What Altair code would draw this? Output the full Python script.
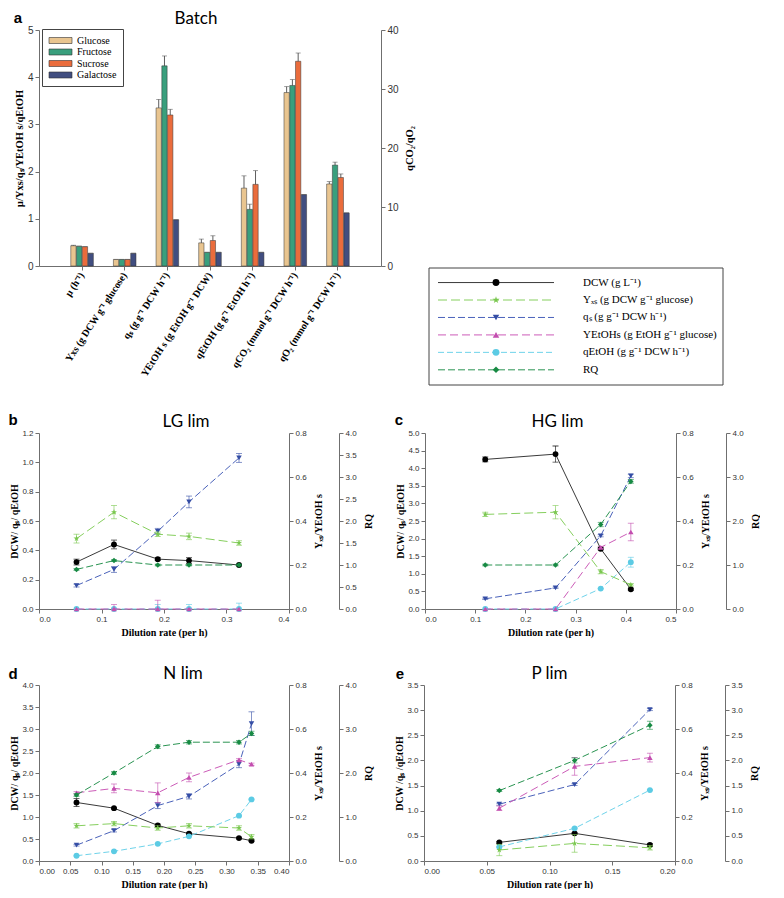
import altair as alt
import pandas as pd

# ---------------- Panel a : Batch ----------------
batch_params = [
    "µ (h⁻¹)",
    "Yxs (g DCW g⁻¹ glucose)",
    "qₛ (g g⁻¹ DCW h⁻¹)",
    "YEtOH s (g EtOH g⁻¹ DCW)",
    "qEtOH (g g⁻¹ EtOH h⁻¹)",
    "qCO₂ (mmol g⁻¹ DCW h⁻¹)",
    "qO₂ (mmol g⁻¹ DCW h⁻¹)",
]
sugars = ["Glucose", "Fructose", "Sucrose", "Galactose"]
sugar_colors = ["#e9c590", "#3a9f7d", "#ea6c3c", "#414e80"]

# first five parameters on left axis, qCO2 / qO2 on right axis (0-40)
glucose_vals = [0.43, 0.14, 3.35, 0.49, 1.65, 29.4, 13.9]
glucose_err = [0.01, 0.0, 0.18, 0.08, 0.26, 1.0, 0.4]
fructose_vals = [0.42, 0.14, 4.24, 0.29, 1.20, 30.6, 17.1]
fructose_err = [0.0, 0.0, 0.21, 0.0, 0.11, 1.0, 0.5]
sucrose_vals = [0.41, 0.14, 3.20, 0.54, 1.73, 34.7, 15.0]
sucrose_err = [0.0, 0.0, 0.12, 0.10, 0.29, 1.4, 0.6]
galactose_vals = [0.27, 0.27, 0.98, 0.29, 0.29, 12.1, 9.0]
galactose_err = [0.0, 0.0, 0.0, 0.0, 0.0, 0.0, 0.0]

# ---------------- Panels b-e : chemostat ----------------
series_keys = ["DCW", "Yxs", "qs", "YEtOHs", "qEtOH", "RQ"]
series_labels = [
    "DCW (g L⁻¹)",
    "Yₓₛ (g DCW g⁻¹ glucose)",
    "qₛ (g g⁻¹ DCW h⁻¹)",
    "YEtOHs (g EtOH g⁻¹ glucose)",
    "qEtOH (g g⁻¹ DCW h⁻¹)",
    "RQ",
]

# LG lim
lg_D = [0.06, 0.12, 0.19, 0.24, 0.32]
lg_DCW = [0.32, 0.44, 0.34, 0.33, 0.30]
lg_DCW_err = [0.02, 0.03, 0.01, 0.02, 0.005]
lg_Yxs = [0.32, 0.44, 0.34, 0.33, 0.30]
lg_Yxs_err = [0.02, 0.03, 0.01, 0.015, 0.01]
lg_qs = [0.16, 0.27, 0.53, 0.73, 1.03]
lg_qs_err = [0.01, 0.02, 0.02, 0.04, 0.03]
lg_YEtOHs = [0.0, 0.0, 0.0, 0.0, 0.0]
lg_YEtOHs_err = [0.0, 0.02, 0.04, 0.0, 0.0]
lg_qEtOH = [0.0, 0.0, 0.0, 0.0, 0.0]
lg_qEtOH_err = [0.0, 0.0, 0.03, 0.03, 0.04]
lg_RQ = [0.9, 1.1, 1.0, 1.0, 1.0]
lg_RQ_err = [0.02, 0.02, 0.02, 0.02, 0.02]

# HG lim
hg_D = [0.12, 0.26, 0.35, 0.41]
hg_DCW = [4.25, 4.40, 1.71, 0.56]
hg_DCW_err = [0.07, 0.23, 0.03, 0.03]
hg_Yxs = [0.43, 0.44, 0.17, 0.11]
hg_Yxs_err = [0.01, 0.03, 0.01, 0.005]
hg_qs = [0.29, 0.60, 2.08, 3.78]
hg_qs_err = [0.02, 0.02, 0.03, 0.05]
hg_YEtOHs = [0.0, 0.0, 0.28, 0.35]
hg_YEtOHs_err = [0.0, 0.0, 0.005, 0.04]
hg_qEtOH = [0.0, 0.0, 0.58, 1.33]
hg_qEtOH_err = [0.0, 0.0, 0.01, 0.14]
hg_RQ = [1.0, 1.0, 1.92, 2.9]
hg_RQ_err = [0.02, 0.02, 0.05, 0.04]

# N lim
n_D = [0.06, 0.12, 0.19, 0.24, 0.32, 0.34]
n_DCW = [1.33, 1.20, 0.81, 0.62, 0.52, 0.46]
n_DCW_err = [0.09, 0.02, 0.03, 0.02, 0.02, 0.02]
n_Yxs = [0.16, 0.17, 0.15, 0.16, 0.15, 0.11]
n_Yxs_err = [0.01, 0.01, 0.01, 0.01, 0.01, 0.01]
n_qs = [0.36, 0.69, 1.26, 1.47, 2.20, 3.12]
n_qs_err = [0.02, 0.03, 0.07, 0.06, 0.08, 0.27]
n_YEtOHs = [0.31, 0.33, 0.31, 0.38, 0.46, 0.44]
n_YEtOHs_err = [0.005, 0.02, 0.045, 0.02, 0.005, 0.005]
n_qEtOH = [0.12, 0.22, 0.39, 0.56, 1.03, 1.40]
n_qEtOH_err = [0.01, 0.01, 0.01, 0.01, 0.01, 0.01]
n_RQ = [1.5, 2.0, 2.6, 2.7, 2.7, 2.9]
n_RQ_err = [0.03, 0.03, 0.04, 0.04, 0.04, 0.05]

# P lim
p_D = [0.06, 0.12, 0.18]
p_DCW = [0.37, 0.55, 0.32]
p_DCW_err = [0.02, 0.02, 0.03]
p_Yxs = [0.05, 0.08, 0.06]
p_Yxs_err = [0.026, 0.04, 0.01]
p_qs = [1.13, 1.52, 3.01]
p_qs_err = [0.02, 0.02, 0.02]
p_YEtOHs = [0.24, 0.43, 0.47]
p_YEtOHs_err = [0.01, 0.04, 0.02]
p_qEtOH = [0.28, 0.65, 1.41]
p_qEtOH_err = [0.01, 0.01, 0.01]
p_RQ = [1.40, 2.0, 2.7]
p_RQ_err = [0.02, 0.05, 0.08]

# ---------------- styles ----------------
STAR = ("M0,-1L0.2245,-0.309L0.951,-0.309L0.363,0.118L0.588,0.809L0,0.382"
        "L-0.588,0.809L-0.363,0.118L-0.951,-0.309L-0.2245,-0.309Z")
series_group = ["L", "R", "L", "R", "L", "Q"]
series_colors = ["#000000", "#79c74e", "#344da5", "#c34daf", "#5ccbe4", "#178a43"]
series_line_colors = ["#3a3a3a", "#86cf5e", "#4a62ba", "#cc5cb8", "#6fd3ea", "#2a9452"]
series_dash = [None, [9, 4], [7, 3], [8, 4], [6, 3], [7, 3]]
series_shapes = ["circle", STAR, "triangle-down", "triangle-up", "circle", "diamond"]
series_sizes = [34, 40, 30, 30, 34, 30]

SERIF = "Liberation Serif"
SANS = "Liberation Sans"
TITLE_FONT = "Lato"


def heading(text, x, y, size=17, bold=False, font=TITLE_FONT):
    return alt.Chart(pd.DataFrame({"t": [text]})).mark_text(
        font=font, fontSize=size, fontWeight="bold" if bold else "normal",
        align="center", baseline="alphabetic", color="#000").encode(
        text="t:N", x=alt.value(x), y=alt.value(y))


# ---------------- Batch chart ----------------
rows = []
for s, vals, errs in zip(sugars,
                         [glucose_vals, fructose_vals, sucrose_vals, galactose_vals],
                         [glucose_err, fructose_err, sucrose_err, galactose_err]):
    for i, p in enumerate(batch_params):
        rows.append(dict(param=p, sugar=s, v=vals[i], hi=vals[i] + errs[i],
                         e=errs[i], side="L" if i < 5 else "R"))
bdf = pd.DataFrame(rows)

bx = alt.X("param:N",
           scale=alt.Scale(domain=batch_params, paddingInner=0.47, paddingOuter=0.745),
           axis=alt.Axis(title=None, labelAngle=303, labelAlign="right",
                         labelBaseline="middle", labelFont=SERIF, labelFontWeight="bold",
                         labelFontSize=10, labelColor="#000", labelPadding=3,
                         labelLimit=0, tickSize=4))
bxo = alt.XOffset("sugar:N", scale=alt.Scale(domain=sugars, paddingInner=0.08))
bfill = alt.Color("sugar:N", scale=alt.Scale(domain=sugars, range=sugar_colors),
                  legend=alt.Legend(
                      title=None, orient="none", legendX=3, legendY=-1,
                      symbolType="M-2.3,-0.6H2.3V0.6H-2.3Z", symbolSize=100,
                      symbolStrokeColor="#333", symbolStrokeWidth=0.6,
                      symbolOffset=7, labelOffset=11,
                      labelFont=SERIF, labelFontSize=10, labelColor="#000",
                      fillColor="white", strokeColor="#444", padding=6,
                      rowPadding=0.5))


def batch_side(side, domain, ticks, title, orient, tx):
    ax = alt.Axis(values=ticks, title=title, orient=orient, titleFontSize=10.5,
                  labelFontSize=10, titleAngle=270, titleX=tx, titleBaseline="middle")
    sc = alt.Scale(domain=domain, nice=False)
    base = alt.Chart(bdf).transform_filter(alt.datum.side == side)
    bars = base.mark_bar(stroke="#333", strokeWidth=0.5).encode(
        x=bx, xOffset=bxo, y=alt.Y("v:Q", scale=sc, axis=ax), color=bfill)
    err = base.transform_filter(alt.datum.e > 0).mark_rule(
        color="#333", strokeWidth=0.8).encode(
        x=bx, xOffset=bxo, y=alt.Y("v:Q", scale=sc, axis=ax), y2="hi:Q")
    cap = base.mark_tick(orient="horizontal", size=5, thickness=0.8,
                         color="#555").encode(
        x=bx, xOffset=bxo, y=alt.Y("hi:Q", scale=sc, axis=ax))
    return alt.layer(bars, err, cap)


BW, BH = 342, 236
batch = alt.layer(
    alt.layer(batch_side("L", [0, 5], [0, 1, 2, 3, 4, 5],
                         "µ/Yxs/qₛ/YEtOH s/qEtOH", "left", -20),
              heading("a", -21, -7, size=15, bold=True, font=SANS),
              heading("Batch", BW / 2 - 14, -6)),
    batch_side("R", [0, 40], [0, 10, 20, 30, 40], "qCO₂/qO₂", "right", 28),
).resolve_scale(y="independent").properties(width=BW, height=BH)

# ---------------- Line legend (box), origin aligned with batch plot top ----------------
LEG_H = 355
leg_layers = [alt.Chart(pd.DataFrame({"a": [0]})).mark_rect(
    fill="white", stroke="#444", strokeWidth=1).encode(
    x=alt.value(0), x2=alt.value(294), y=alt.value(238), y2=alt.value(LEG_H))]
leg_y_scale = alt.Scale(domain=[-14.47, 5.87], reverse=True, nice=False, zero=False)
for i, (lab, col, lcol, dash, shape, size) in enumerate(zip(
        series_labels, series_colors, series_line_colors, series_dash,
        series_shapes, series_sizes)):
    d = pd.DataFrame({"i": [i], "label": [lab]})
    ly = alt.Y("i:Q", scale=leg_y_scale, axis=None)
    kw = dict(color=lcol, strokeWidth=1)
    if dash:
        kw["strokeDash"] = dash
    leg_layers.append(alt.Chart(d).mark_rule(**kw).encode(
        x=alt.value(9), x2=alt.value(125), y=ly))
    leg_layers.append(alt.Chart(d).mark_point(
        shape=shape, filled=True, size=size * 1.4, color=col, opacity=1).encode(
        x=alt.value(67), y=ly))
    leg_layers.append(alt.Chart(d).mark_text(
        font=SERIF, fontSize=11, align="left", baseline="middle", color="#000").encode(
        x=alt.value(154), y=ly, text="label:N"))
legend_chart = alt.layer(*leg_layers).properties(width=294, height=LEG_H)


# ---------------- Line panels ----------------
def make_panel(D, vals, errs, xdom, xticks, xfmt, ldom, lticks, ltitle,
               rqdom, rqticks, title, tdx, letter, lx, ly, w, h, rq_offset=50):
    xenc = alt.X("D:Q", scale=alt.Scale(domain=xdom, nice=False, zero=False),
                 axis=alt.Axis(values=xticks, format=xfmt, title="Dilution rate (per h)",
                               titlePadding=4))
    yspec = {
        "L": (ldom, alt.Axis(values=lticks, format=".1f", title=ltitle, orient="left",
                             titleX=-25, titleBaseline="middle")),
        "R": ([0, 0.8], alt.Axis(values=[0, 0.2, 0.4, 0.6, 0.8], format=".1f",
                                 title="Yₓₛ/YEtOH s", orient="right", titleAngle=270,
                                 titleX=29, titleBaseline="middle")),
        "Q": (rqdom, alt.Axis(values=rqticks, format=".1f", title="RQ", orient="right",
                              offset=rq_offset, titleAngle=270, titleX=29,
                              titleBaseline="middle")),
    }
    groups = {"L": [], "R": [], "Q": []}
    for k, g, col, lcol, dash, shape, size in zip(
            series_keys, series_group, series_colors, series_line_colors,
            series_dash, series_shapes, series_sizes):
        v, e = vals[k], errs[k]
        df = pd.DataFrame({"D": D, "v": v, "e": e,
                           "lo": [max(0.0, a - b) for a, b in zip(v, e)],
                           "hi": [a + b for a, b in zip(v, e)]})
        dom, ax = yspec[g]
        sc = alt.Scale(domain=dom, nice=False, zero=False)
        base = alt.Chart(df)
        kw = dict(color=lcol, strokeWidth=1)
        if dash:
            kw["strokeDash"] = dash
        line = base.mark_line(**kw).encode(x=xenc, y=alt.Y("v:Q", scale=sc, axis=ax))
        eb = base.transform_filter(alt.datum.e > 0)
        rule = eb.mark_rule(color=col, strokeWidth=0.8, opacity=0.75).encode(
            x=xenc, y=alt.Y("lo:Q", scale=sc, axis=ax), y2="hi:Q")
        cap_hi = eb.mark_tick(orient="horizontal", size=6, thickness=0.8,
                              color=col, opacity=0.75).encode(
            x=xenc, y=alt.Y("hi:Q", scale=sc, axis=ax))
        cap_lo = eb.mark_tick(orient="horizontal", size=6, thickness=0.8,
                              color=col, opacity=0.75).encode(
            x=xenc, y=alt.Y("lo:Q", scale=sc, axis=ax))
        pts = base.mark_point(shape=shape, filled=True, size=size, color=col,
                              opacity=1).encode(
            x=xenc, y=alt.Y("v:Q", scale=sc, axis=ax))
        groups[g] += [line, rule, cap_hi, cap_lo, pts]
    return alt.layer(
        alt.layer(*groups["L"],
                  heading(letter, lx, ly, size=15, bold=True, font=SANS),
                  heading(title, w / 2 + tdx, -6)),
        alt.layer(*groups["R"]),
        alt.layer(*groups["Q"]),
    ).resolve_scale(y="independent").properties(width=w, height=h)


def pack(prefix):
    g = globals()
    vals = {k: g[f"{prefix}_{k}"] for k in series_keys}
    errs = {k: g[f"{prefix}_{k}_err"] for k in series_keys}
    return vals, errs


lg_v, lg_e = pack("lg")
hg_v, hg_e = pack("hg")
n_v, n_e = pack("n")
p_v, p_e = pack("p")

PH = 176
half = [0, 0.5, 1.0, 1.5, 2.0, 2.5, 3.0, 3.5, 4.0]
panel_b = make_panel(lg_D, lg_v, lg_e, [0, 0.4], [0, 0.1, 0.2, 0.3, 0.4], ".1f",
                     [0, 1.2], [0, 0.2, 0.4, 0.6, 0.8, 1.0, 1.2], "DCW/ qₛ/ qEtOH",
                     [0, 4], half, "LG lim", 22, "b", -26, -8, 250, PH)
panel_c = make_panel(hg_D, hg_v, hg_e, [0, 0.5], [0, 0.1, 0.2, 0.3, 0.4, 0.5], ".1f",
                     [0, 5], [0, 0.5, 1, 1.5, 2, 2.5, 3, 3.5, 4, 4.5, 5], "DCW/ qₛ/ qEtOH",
                     [0, 4], [0, 1, 2, 3, 4], "HG lim", 7, "c", -26, -8, 251, PH)
panel_d = make_panel(n_D, n_v, n_e, [0, 0.4],
                     [0, 0.05, 0.1, 0.15, 0.2, 0.25, 0.3, 0.35, 0.4], ".2f",
                     [0, 4], half, "DCW/ qₛ/ qEtOH",
                     [0, 4], [0, 1, 2, 3, 4], "N lim", 19, "d", -26, -6, 250, PH)
panel_e = make_panel(p_D, p_v, p_e, [0, 0.2], [0, 0.05, 0.1, 0.15, 0.2], ".2f",
                     [0, 3.5], half[:-1], "DCW /qₛ /qEtOH",
                     [0, 3.5], half[:-1], "P lim", 0, "e", -24, -6, 251, PH)

row1 = alt.hconcat(batch, legend_chart, spacing=13)
row2 = alt.hconcat(panel_b, panel_c, spacing=21)
row3 = alt.hconcat(panel_d, panel_e, spacing=21)

chart = alt.vconcat(row1, alt.vconcat(row2, row3, spacing=28), spacing=27).properties(
    padding={"top": 2, "left": 0, "right": 0, "bottom": 0}, background="white"
).configure_view(stroke=None).configure_axis(
    labelFont=SANS, labelFontSize=8, labelColor="#333",
    domainColor="#6f6f6f", tickColor="#6f6f6f", tickSize=4,
    titleFont=SERIF, titleFontSize=10, titleFontWeight="bold", titleColor="#000",
    grid=False, labelPadding=2,
)

chart.save("out.html", embed_options={"renderer": "svg", "actions": False})
